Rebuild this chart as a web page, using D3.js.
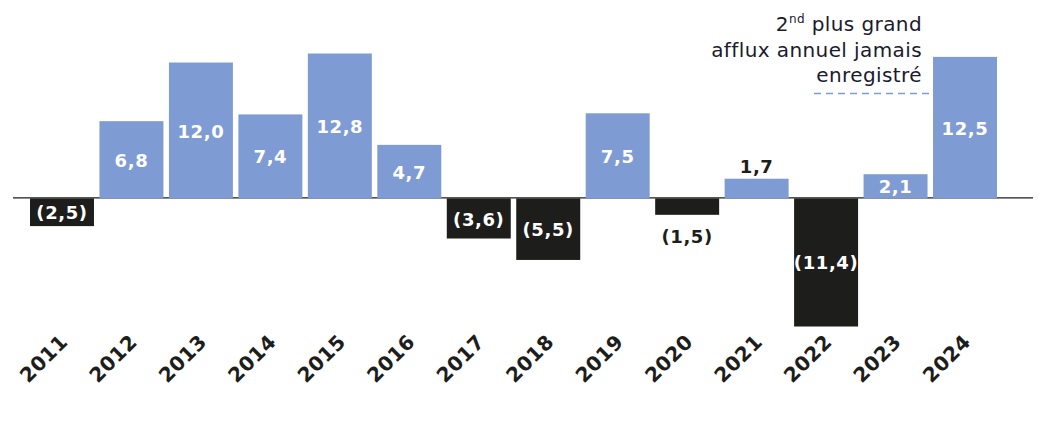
<!DOCTYPE html>
<html>
<head>
<meta charset="utf-8">
<script src="https://cdn.jsdelivr.net/npm/d3@7"></script>
<style>
  body { margin: 0; background: #fff; }
  svg text { font-family: "DejaVu Sans", sans-serif; }
</style>
</head>
<body>
<svg id="drawing_region"></svg>
<script>
const years = ['2011','2012','2013','2014','2015','2016','2017','2018','2019','2020','2021','2022','2023','2024'];
const flows = [-2.5, 6.8, 12.0, 7.4, 12.8, 4.7, -3.6, -5.5, 7.5, -1.5, 1.7, -11.4, 2.1, 12.5];
// labels that sit outside their bar
const outside = ['2020','2021'];
const noteLines = ['plus grand', 'afflux annuel jamais', 'enregistré'];

const data = years.map((y, i) => ({year: y, value: flows[i]}));

const config = {
    parent: '#drawing_region',
    width: 1051,
    height: 444
};

const blue = '#7f9bd3';
const dark = '#1d1d1b';

const svg = d3.select(config.parent)
    .attr('width', config.width)
    .attr('height', config.height);

const xscale = d3.scaleBand()
    .domain(years)
    .range([30, 997])
    .paddingInner(0.079)
    .paddingOuter(0);

const yscale = d3.scaleLinear()
    .domain([d3.min(flows), d3.max(flows)])
    .range([326.5, 53.5]);

const fmt = v => {
    const s = Math.abs(v).toFixed(1).replace('.', ',');
    return v < 0 ? `(${s})` : s;
};

// zero line
svg.append('line')
    .attr('x1', 13).attr('x2', 1033)
    .attr('y1', yscale(0)).attr('y2', yscale(0))
    .attr('stroke', dark)
    .attr('stroke-width', 1.2);

// bars
svg.selectAll('rect.bar')
    .data(data)
    .join('rect')
    .attr('class', 'bar')
    .attr('x', d => xscale(d.year))
    .attr('y', d => d.value > 0 ? yscale(d.value) : yscale(0) + 0.5)
    .attr('width', xscale.bandwidth())
    .attr('height', d => d.value > 0 ? yscale(0) + 0.5 - yscale(d.value) : yscale(d.value) - yscale(0) - 0.5)
    .attr('fill', d => d.value > 0 ? blue : dark);

// value labels
svg.selectAll('text.val')
    .data(data)
    .join('text')
    .attr('class', 'val')
    .attr('x', d => xscale(d.year) + xscale.bandwidth() / 2)
    .attr('y', d => {
        if (outside.includes(d.year)) {
            return d.value > 0 ? yscale(d.value) - 12 : yscale(d.value) + 22;
        }
        return (yscale(0) + yscale(d.value)) / 2 + 1;
    })
    .attr('dy', '0.35em')
    .attr('text-anchor', 'middle')
    .attr('font-size', 18)
    .attr('font-weight', 'bold')
    .attr('letter-spacing', 0.6)
    .attr('fill', d => outside.includes(d.year) ? dark : '#fff')
    .text(d => fmt(d.value));

// year labels
svg.selectAll('text.year')
    .data(years)
    .join('text')
    .attr('class', 'year')
    .attr('transform', d => `translate(${xscale(d) + xscale.bandwidth() / 2 + 7}, 343) rotate(-45)`)
    .attr('text-anchor', 'end')
    .attr('font-size', 20)
    .attr('font-weight', 'bold')
    .attr('letter-spacing', 0.5)
    .attr('fill', dark)
    .text(d => d);

// annotation
const note = svg.append('text')
    .attr('text-anchor', 'end')
    .attr('font-size', 20)
    .attr('letter-spacing', 0.4)
    .attr('fill', '#1a1a2e');
const first = note.append('tspan').attr('x', 922).attr('y', 31);
first.append('tspan').text('2');
first.append('tspan').attr('font-size', 12).attr('dy', -8).text('nd');
first.append('tspan').attr('dy', 8).text(' ' + noteLines[0]);
note.append('tspan').attr('x', 922).attr('y', 56.5).text(noteLines[1]);
note.append('tspan').attr('x', 922).attr('y', 82).text(noteLines[2]);

svg.append('line')
    .attr('x1', 814).attr('x2', xscale('2024'))
    .attr('y1', 93.5).attr('y2', 93.5)
    .attr('stroke', blue)
    .attr('stroke-width', 1.5)
    .attr('stroke-dasharray', '7,5');
</script>
</body>
</html>
